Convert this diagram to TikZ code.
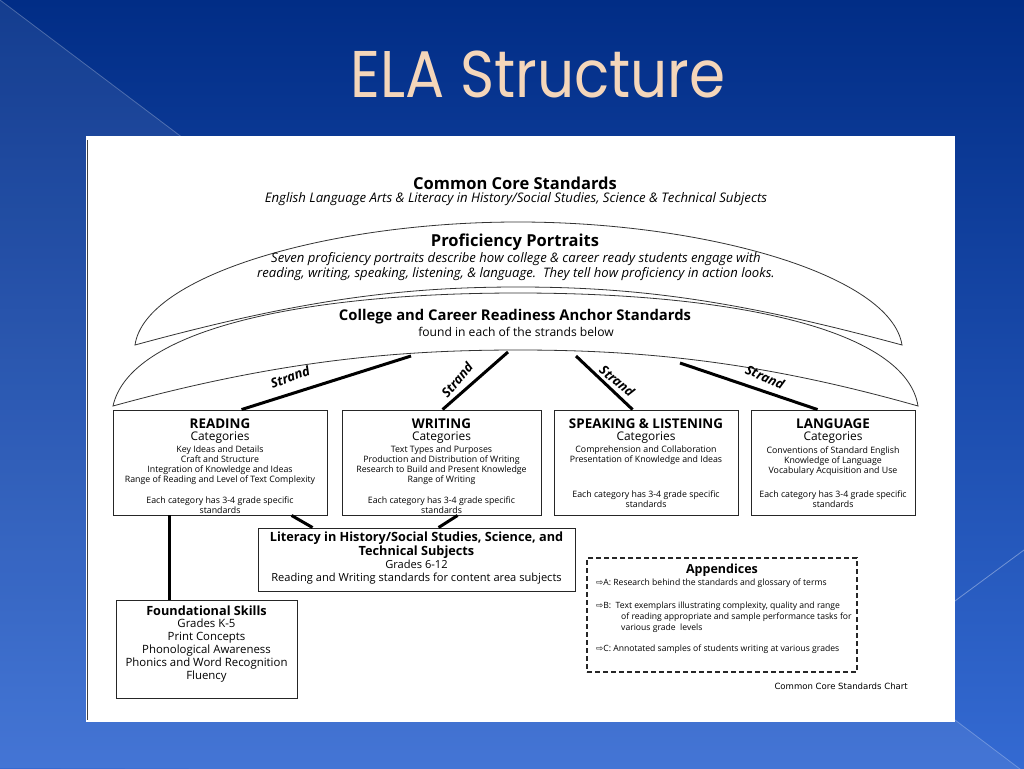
\documentclass[tikz,border=0pt]{standalone}
\usepackage{fontspec}
\setmainfont{Open Sans}
\newfontfamily\titlefont{Poppins}
\newfontfamily\symfont{DejaVu Sans}
\usetikzlibrary{positioning}
\definecolor{slidetop}{RGB}{1, 45, 134}
\definecolor{slidebot}{RGB}{52, 106, 210}
\definecolor{titlepeach}{RGB}{244, 214, 186}
\newcommand{\fs}[2]{\fontsize{#1}{#2}\selectfont}

\begin{document}
\begin{tikzpicture}[x=1pt, y=-1pt,
    panelbox/.style={draw=black!85, line width=0.9pt, inner sep=0pt},
    catbox/.style={panelbox, minimum height=105pt},
    strandline/.style={line width=3pt},
    strandlbl/.style={font=\fs{13}{13}\bfseries\itshape, inner sep=0pt},
    hd/.style={font=\fs{13.4}{14}\bfseries, inner sep=0pt},
    cat/.style={font=\fs{11.9}{14}, inner sep=0pt},
    items/.style={font=\fs{8.8}{10}, align=center, inner sep=0pt},
    apx/.style={font=\fs{8.6}{11}, align=left, anchor=west, inner sep=0pt}
]
\useasboundingbox (0,0) rectangle (1024,768);

% Slide background
\shade[top color=slidetop, bottom color=slidebot] (0,0) rectangle (1024,768);
\fill[white, opacity=0.08] (0,0) -- (1024,772) -- (0,768) -- cycle;
\draw[white, opacity=0.25, line width=0.8pt] (0,0) -- (1024,772);
\draw[white, opacity=0.35, line width=0.8pt] (940,612) -- (1024,550);

% Title
\node[font=\titlefont\fs{66}{66}, text=titlepeach, xscale=0.88] (title) at (538,74) {ELA Structure};

% White chart panel
\fill[white] (86,136) rectangle (955,722);
\draw[black!75, line width=1pt] (87.5,140) -- (87.5,720);

% Heading
\node[font=\fs{16.5}{18}\bfseries, inner sep=0pt] (cchead) at (515,183) {Common Core Standards};
\node[font=\fs{13.2}{14}\itshape, inner sep=0pt] (ccsub) at (516,199) {English Language Arts \& Literacy in History/Social Studies, Science \& Technical Subjects};

% Two arcs
\draw[black!80, line width=0.8pt] (135,345) .. controls (145,275) and (330,222) .. (518,222)
    .. controls (706,222) and (891,275) .. (902,345)
    .. controls (736,300) and (636,287) .. (518,287)
    .. controls (400,287) and (300,300) .. (135,345) -- cycle;
\draw[black!80, line width=0.8pt] (113,406) .. controls (130,330) and (300,293) .. (518,293)
    .. controls (736,293) and (906,330) .. (918,406)
    .. controls (756,360) and (636,350) .. (518,350)
    .. controls (400,350) and (280,360) .. (113,406) -- cycle;

\node[font=\fs{16.5}{18}\bfseries, inner sep=0pt] (pphead) at (515,242) {Proficiency Portraits};
\node[font=\fs{13.1}{14.2}\itshape, align=center, inner sep=0pt] (ppsub) at (516,266.5) {Seven proficiency portraits describe how college \& career ready students engage with\\reading, writing, speaking, listening, \& language.\ \ They tell how proficiency in action looks.};
\node[font=\fs{14.8}{16}\bfseries, inner sep=0pt] (anhead) at (515,317) {College and Career Readiness Anchor Standards};
\node[font=\fs{12.1}{13}, inner sep=0pt] (ansub) at (516,332) {found in each of the strands below};

% Strand boxes
\node[catbox, minimum width=214pt] (reading) at (220,462.5) {};
\node[catbox, minimum width=199pt] (writing) at (441.5,462.5) {};
\node[catbox, minimum width=184pt] (speaking) at (646,462.5) {};
\node[catbox, minimum width=164pt] (language) at (833,462.5) {};

\node[hd] (readhd) at (220,424) {READING};
\node[cat] (readcat) at (220,438) {Categories};
\node[items] (readitems) at (220,465) {Key Ideas and Details\\Craft and Structure\\Integration of Knowledge and Ideas\\Range of Reading and Level of Text Complexity};
\node[items] (readnote) at (220,505.5) {Each category has 3-4 grade specific\\standards};

\node[hd] (writehd) at (441.5,424) {WRITING};
\node[cat] (writecat) at (441.5,438) {Categories};
\node[items] (writeitems) at (441.5,465) {Text Types and Purposes\\Production and Distribution of Writing\\Research to Build and Present Knowledge\\Range of Writing};
\node[items] (writenote) at (441.5,505.5) {Each category has 3-4 grade specific\\standards};

\node[hd] (speakhd) at (646,424) {SPEAKING \& LISTENING};
\node[cat] (speakcat) at (646,438) {Categories};
\node[items] (speakitems) at (646,455.5) {Comprehension and Collaboration\\Presentation of Knowledge and Ideas};
\node[items] (speaknote) at (646,499.5) {Each category has 3-4 grade specific\\standards};

\node[hd] (langhd) at (833,424) {LANGUAGE};
\node[cat] (langcat) at (833,438) {Categories};
\node[items] (langitems) at (833,461) {Conventions of Standard English\\Knowledge of Language\\Vocabulary Acquisition and Use};
\node[items] (langnote) at (833,499.5) {Each category has 3-4 grade specific\\standards};

% Strands
\coordinate (s1) at (411,356);
\coordinate (s2) at (508,352);
\coordinate (s3) at (576,356);
\coordinate (s4) at (680,363);
\draw[strandline] (s1) -- ([xshift=129pt]reading.north west);
\draw[strandline] (s2) -- ([xshift=101pt]writing.north west);
\draw[strandline] (s3) -- ([xshift=79pt]speaking.north west);
\draw[strandline] (s4) -- ([xshift=67pt]language.north west);
\node[strandlbl, rotate=20] (str1) at (290,377) {Strand};
\node[strandlbl, rotate=50] (str2) at (457,380) {Strand};
\node[strandlbl, rotate=-40] (str3) at (617,381) {Strand};
\node[strandlbl, rotate=-24] (str4) at (765,377) {Strand};

% Literacy box
\node[panelbox, minimum width=317pt, minimum height=63pt] (literacy) at (416.5,559.5) {};
\node[font=\fs{12.7}{14}\bfseries, align=center, inner sep=0pt] (lithd) at (416.5,545) {Literacy in History/Social Studies, Science, and\\Technical Subjects};
\node[font=\fs{11.1}{13.5}, align=center, inner sep=0pt] (litsub) at (416.5,572) {Grades 6-12\\Reading and Writing standards for content area subjects};
\draw[strandline] ([xshift=179pt]reading.south west) -- ([xshift=55pt]literacy.north west);
\draw[strandline] ([xshift=116pt]writing.south west) -- ([xshift=181pt]literacy.north west);

% Foundational skills
\node[panelbox, minimum width=181pt, minimum height=98pt] (found) at (206.5,649) {};
\node[font=\fs{12.7}{14}\bfseries, inner sep=0pt] (foundhd) at (206.5,611) {Foundational Skills};
\node[font=\fs{11.4}{13}, align=center, inner sep=0pt] (founditems) at (206.5,651) {Grades K-5\\Print Concepts\\Phonological Awareness\\Phonics and Word Recognition\\Fluency};
\draw[strandline] ([xshift=57pt]reading.south west) -- ([xshift=54pt]found.north west);

% Appendices
\node[panelbox, line width=1.3pt, dash pattern=on 5pt off 3pt, minimum width=270pt, minimum height=114pt] (append) at (722,615) {};
\node[font=\fs{12.5}{14}\bfseries, inner sep=0pt] (apphd) at (722,570) {Appendices};
\node[apx] (appa) at (596,583) {{\symfont ⇨}A: Research behind the standards and glossary of terms};
\node[apx] (appb) at (596,617) {{\symfont ⇨}B:\ \ Text exemplars illustrating complexity, quality and range\\\hspace*{25pt}of reading appropriate and sample performance tasks for\\\hspace*{25pt}various grade\ \ levels};
\node[apx] (appc) at (596,649) {{\symfont ⇨}C: Annotated samples of students writing at various grades};

\node[font=\symfont\fs{8.55}{10}, anchor=east, inner sep=0pt] (chartlbl) at (908,686) {Common Core Standards Chart};
\end{tikzpicture}
\end{document}
